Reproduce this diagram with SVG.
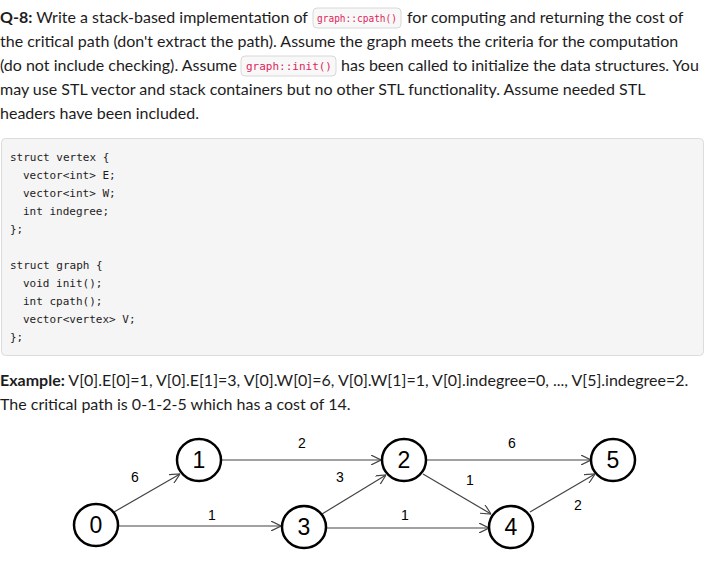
<svg xmlns="http://www.w3.org/2000/svg" width="710" height="574" viewBox="0 0 710 574">
<style>
.t{font-family:Lato,"Open Sans","Noto Sans",sans-serif;font-size:16px;fill:#1d1c1d}
.b{font-weight:bold}
.ic{font-family:"DejaVu Sans Mono","Liberation Mono",monospace;font-size:10px;fill:#e01e5a}
.chip{fill:#f8f8f8;stroke:#d8d8d8;stroke-width:1}
.c{font-family:"DejaVu Sans Mono","Liberation Mono",monospace;font-size:11px;fill:#1d1c1d}
.n ellipse{fill:#fff;stroke:#000;stroke-width:2.5}
.n text{font-family:"Liberation Sans",Arial,sans-serif;font-size:23px;fill:#000;text-anchor:middle}
.e line{stroke:#444;stroke-width:1.2;marker-end:url(#a)}
.w{font-family:"Liberation Sans",Arial,sans-serif;font-size:14px;fill:#000;text-anchor:middle}
</style>
<defs><marker id="a" viewBox="0 0 10 10" refX="10" refY="5" markerWidth="10" markerHeight="10" markerUnits="userSpaceOnUse" orient="auto"><path d="M0,0L10,5L0,10" fill="none" stroke="#444" stroke-width="1.2"/></marker></defs>
<rect width="710" height="574" fill="#fff"/>
<rect class="chip" x="313" y="8" width="88" height="20" rx="4"/>
<rect class="chip" x="241" y="56" width="95" height="20" rx="4"/>
<text class="t" x="0" y="23"><tspan class="b">Q-8:</tspan> Write a stack-based implementation of</text>
<text class="ic" x="317" y="22" textLength="80" lengthAdjust="spacingAndGlyphs">graph::cpath()</text>
<text class="t" x="407" y="23">for computing and returning the cost of</text>
<text class="t" x="0" y="47">the critical path (don't extract the path). Assume the graph meets the criteria for the computation</text>
<text class="t" x="0" y="71">(do not include checking). Assume</text>
<text class="ic" x="246" y="70" textLength="86" lengthAdjust="spacingAndGlyphs">graph::init()</text>
<text class="t" x="341" y="71">has been called to initialize the data structures. You</text>
<text class="t" x="0" y="95">may use STL vector and stack containers but no other STL functionality. Assume needed STL</text>
<text class="t" x="0" y="119">headers have been included.</text>
<rect x="1.5" y="138.5" width="702" height="217" rx="4" fill="#f5f5f5" stroke="#dcdcdc"/>
<text class="c" x="10" y="161">struct vertex {</text>
<text class="c" x="23" y="179">vector&lt;int&gt; E;</text>
<text class="c" x="23" y="197">vector&lt;int&gt; W;</text>
<text class="c" x="23" y="215">int indegree;</text>
<text class="c" x="10" y="233">};</text>
<text class="c" x="10" y="269">struct graph {</text>
<text class="c" x="23" y="287">void init();</text>
<text class="c" x="23" y="305">int cpath();</text>
<text class="c" x="23" y="323">vector&lt;vertex&gt; V;</text>
<text class="c" x="10" y="341">};</text>
<text class="t" x="0" y="386"><tspan class="b">Example:</tspan> V[0].E[0]=1, V[0].E[1]=3, V[0].W[0]=6, V[0].W[1]=1, V[0].indegree=0, ..., V[5].indegree=2.</text>
<text class="t" x="0" y="410">The critical path is 0-1-2-5 which has a cost of 14.</text>
<g id="edges" class="e">
<line x1="114" y1="512" x2="180" y2="474"/>
<line x1="118" y1="526" x2="281" y2="526"/>
<line x1="221" y1="460" x2="381" y2="460"/>
<line x1="322" y1="514" x2="386" y2="475"/>
<line x1="326" y1="528" x2="489" y2="528"/>
<line x1="423" y1="474" x2="491" y2="514"/>
<line x1="427" y1="460" x2="591" y2="460"/>
<line x1="530" y1="512" x2="595" y2="474"/>
</g>
<g class="w">
<text x="135" y="482">6</text><text x="212" y="520">1</text><text x="302" y="448">2</text>
<text x="340" y="482">3</text><text x="405" y="520">1</text><text x="470" y="485">1</text>
<text x="512" y="448">6</text><text x="578" y="510">2</text>
</g>
<g id="n0" class="n"><ellipse cx="96" cy="525" rx="22" ry="21"/><text x="96" y="533">0</text></g>
<g id="n1" class="n"><ellipse cx="199" cy="460" rx="22" ry="21"/><text x="199" y="468">1</text></g>
<g id="n2" class="n"><ellipse cx="404" cy="460" rx="22" ry="21"/><text x="404" y="468">2</text></g>
<g id="n3" class="n"><ellipse cx="304" cy="527" rx="22" ry="21"/><text x="304" y="535">3</text></g>
<g id="n4" class="n"><ellipse cx="511" cy="527" rx="22" ry="21"/><text x="511" y="535">4</text></g>
<g id="n5" class="n"><ellipse cx="613" cy="460" rx="22" ry="21"/><text x="613" y="468">5</text></g>
</svg>
